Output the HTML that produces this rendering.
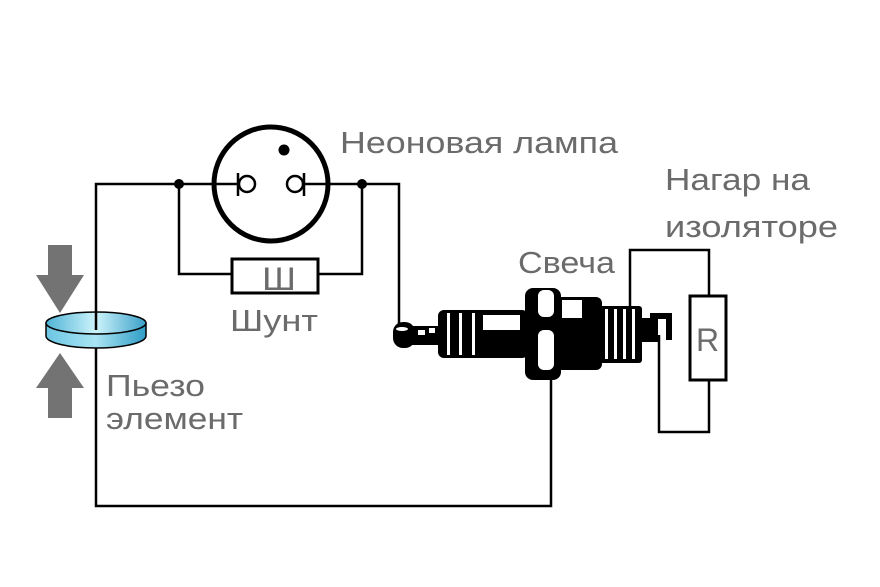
<!DOCTYPE html>
<html><head><meta charset="utf-8"><style>
html,body{margin:0;padding:0;background:#fff;}
svg{display:block}
text{font-family:"Liberation Sans","DejaVu Sans",sans-serif;fill:#6b6b6b;}
</style></head><body>
<svg width="880" height="587" viewBox="0 0 880 587" xmlns="http://www.w3.org/2000/svg">
<defs>
<linearGradient id="g1" x1="0" x2="1" y1="0" y2="0">
<stop offset="0" stop-color="#4fb3d6"/><stop offset="0.5" stop-color="#cdf3fb"/><stop offset="1" stop-color="#3aa0c8"/>
</linearGradient>
<linearGradient id="g2" x1="0" x2="1" y1="0" y2="0">
<stop offset="0" stop-color="#6cc6e3"/><stop offset="0.5" stop-color="#a9e4f3"/><stop offset="1" stop-color="#2f9cc6"/>
</linearGradient>
</defs>
<g fill="none" stroke="#000" stroke-width="2.5">
<polyline points="96,332 96,184 399,184 399,328"/>
<polyline points="96,348 96,506 551,506 551,372"/>
<polyline points="179,184 179,274 232,274"/>
<polyline points="318,274 362,274 362,184"/>
<polyline points="630,310 630,250 709,250 709,296"/>
<polyline points="709,380 709,432 659,432 659,335"/>
<rect x="232" y="259" width="86" height="34" stroke-width="3"/>
<rect x="690" y="296" width="36" height="84" stroke-width="3"/>
</g>
<circle cx="271" cy="184" r="57" fill="#fff" stroke="#000" stroke-width="5"/>
<g stroke="#000" stroke-width="2.5" fill="none">
<line x1="214" y1="184" x2="238" y2="184"/>
<line x1="238" y1="173" x2="238" y2="196"/>
<circle cx="247" cy="184" r="8"/>
<line x1="304" y1="184" x2="328" y2="184"/>
<line x1="304" y1="173" x2="304" y2="196"/>
<circle cx="295" cy="184" r="8"/>
</g>
<circle cx="284" cy="150" r="5.5" fill="#000"/>
<circle cx="179" cy="184" r="5" fill="#000"/>
<circle cx="362" cy="184" r="5" fill="#000"/>
<!-- piezo -->
<polygon points="48,245 72,245 72,275 84,275 60,313 36,275 48,275" fill="#737373"/>
<polygon points="48,418 72,418 72,388 84,388 60,353 36,388 48,388" fill="#737373"/>
<path d="M46 323 L46 336 A50 12 0 0 0 146 336 L146 323 Z" fill="url(#g2)" stroke="#000" stroke-width="1.5"/>
<ellipse cx="96" cy="323" rx="50" ry="11" fill="url(#g1)" stroke="#000" stroke-width="1.5"/>
<line x1="96" y1="312" x2="96" y2="330" stroke="#000" stroke-width="2.5"/>
<!-- spark plug -->
<g fill="#000">
<rect x="393" y="322" width="22" height="26" rx="10"/>
<rect x="410" y="326" width="32" height="19"/>
<rect x="438" y="310" width="90" height="48" rx="6"/>
<rect x="525" y="288" width="36" height="92" rx="8"/>
<rect x="556" y="297" width="46" height="73" rx="6"/>
<rect x="598" y="306" width="44" height="57" rx="3"/>
<rect x="640" y="318" width="18" height="24"/>
<path d="M650 313 L672 313 L672 340 L666 340 L666 319 L650 319 Z"/>
</g>
<g fill="#fff">
<ellipse cx="402" cy="329" rx="6" ry="2"/>
<rect x="418" y="330" width="7" height="5"/>
<rect x="429" y="328" width="6" height="5"/>
<rect x="447" y="313" width="3" height="42"/>
<rect x="459" y="313" width="3" height="42"/>
<rect x="472" y="313" width="3" height="42"/>
<rect x="483" y="315" width="37" height="15"/>
<rect x="538" y="290" width="16" height="27" rx="6"/>
<rect x="538" y="330" width="16" height="40" rx="6"/>
<rect x="562" y="300" width="20" height="18"/>
<rect x="605" y="309" width="3" height="50"/>
<rect x="614" y="309" width="3" height="50"/>
<rect x="623" y="309" width="3" height="50"/>
<rect x="632" y="309" width="3" height="50"/>
</g>
<!-- text -->
<text x="340" y="153" font-size="31" textLength="278" lengthAdjust="spacingAndGlyphs">Неоновая лампа</text>
<text x="665" y="190" font-size="31" textLength="145" lengthAdjust="spacingAndGlyphs">Нагар на</text>
<text x="665" y="237" font-size="31" textLength="173" lengthAdjust="spacingAndGlyphs">изоляторе</text>
<text x="518" y="273" font-size="31" textLength="97" lengthAdjust="spacingAndGlyphs">Свеча</text>
<text x="230" y="331" font-size="31" textLength="88" lengthAdjust="spacingAndGlyphs">Шунт</text>
<text x="262" y="290" font-size="32" textLength="34" lengthAdjust="spacingAndGlyphs">Ш</text>
<text x="696" y="351" font-size="32">R</text>
<text x="106" y="396" font-size="31" textLength="99" lengthAdjust="spacingAndGlyphs">Пьезо</text>
<text x="106" y="429" font-size="31" textLength="137" lengthAdjust="spacingAndGlyphs">элемент</text>
</svg>
</body></html>
